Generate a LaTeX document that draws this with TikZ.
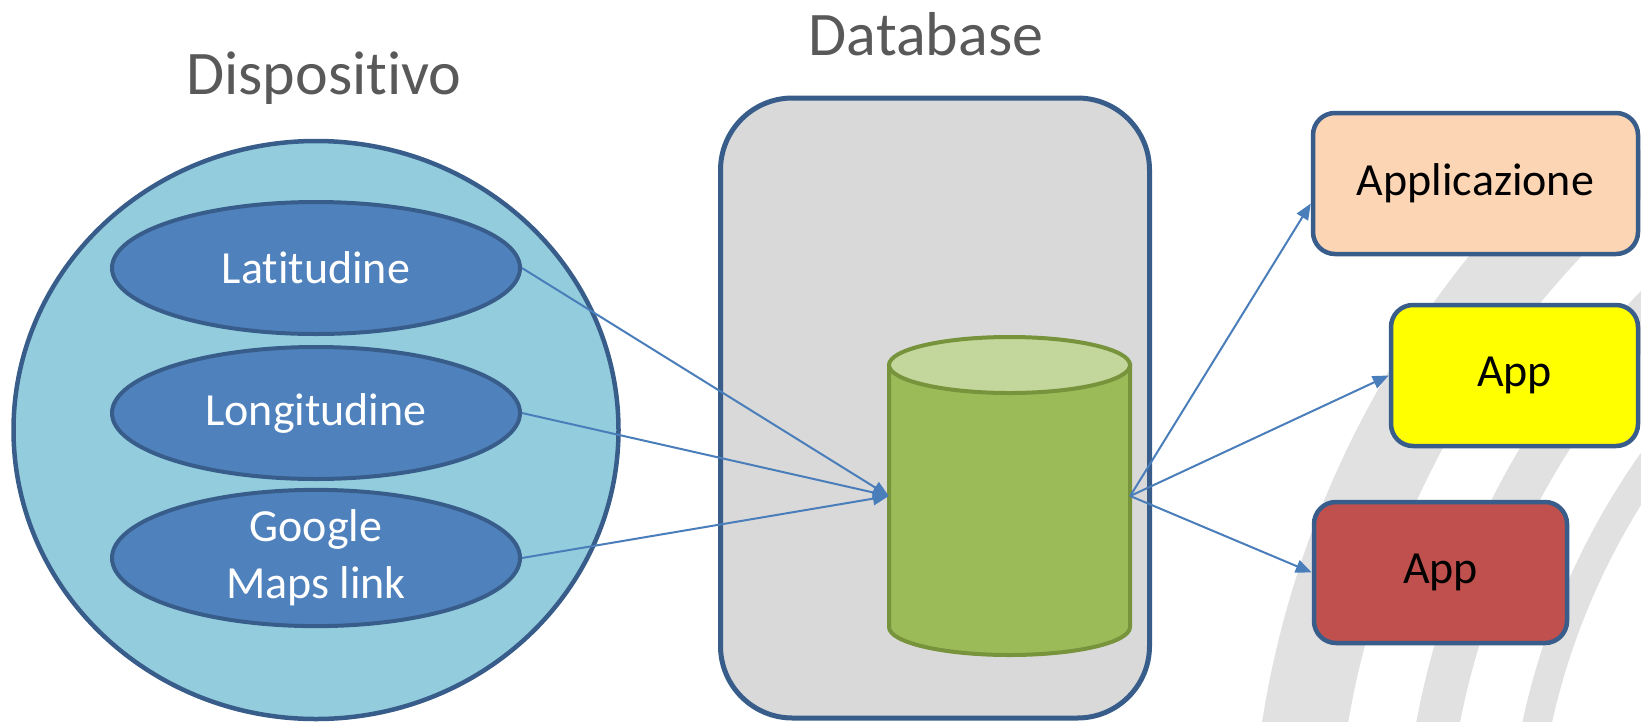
\documentclass[tikz,border=0pt]{standalone}
\usepackage{fontspec}
\setmainfont{Carlito}[Ligatures=NoCommon]
\usetikzlibrary{shapes.geometric,arrows.meta}
\definecolor{cbordo}{RGB}{56,93,138}
\definecolor{cceleste}{RGB}{147,205,221}
\definecolor{cblu}{RGB}{79,129,189}
\definecolor{cfreccia}{RGB}{74,126,187}
\definecolor{cgrigio}{RGB}{217,217,217}
\definecolor{ctitolo}{RGB}{89,89,89}
\definecolor{cpesca}{RGB}{252,213,181}
\definecolor{cgiallo}{RGB}{255,255,0}
\definecolor{crosso}{RGB}{192,80,77}
\definecolor{cverde}{RGB}{155,187,89}
\definecolor{cverdechiaro}{RGB}{195,214,155}
\definecolor{cverdescuro}{RGB}{119,147,60}
\definecolor{cfiligrana}{RGB}{225,225,225}
\begin{document}
\begin{tikzpicture}[x=1pt,y=-1pt,
	titolo/.style={text=ctitolo,font=\fontsize{62}{74}\selectfont,anchor=base,inner sep=0pt},
	campo/.style={ellipse,draw=cbordo,line width=4pt,fill=cblu,text=white,minimum width=408pt,minimum height=132pt,inner sep=0pt,align=center,font=\fontsize{46}{57}\selectfont},
	app/.style={draw=cbordo,line width=4.5pt,rounded corners=22pt,font=\fontsize{46}{55}\selectfont,minimum height=141pt,inner sep=0pt},
	fusto/.style={draw=cverdescuro,line width=4pt},
	freccia/.style={draw=cfreccia,line width=2pt,-{Triangle[length=16pt,width=13pt]}}]
	\useasboundingbox (0,0) rectangle (1641,721);
	% filigrana
	\begin{scope}
		\clip (1150,150) rectangle (1641,721);
		\foreach \ra/\rb in {990/905,838/795,734/705}
			\fill[cfiligrana,even odd rule] (2240,877) circle[radius=\ra pt] circle[radius=\rb pt];
	\end{scope}
	% dispositivo
	\node[titolo] (tdisp) at (324,94) {Dispositivo};
	\node[ellipse,draw=cbordo,line width=4.5pt,fill=cceleste,minimum width=605pt,minimum height=578pt] (disp) at (316,430) {};
	\node[campo] (lat) at (316,268) {Latitudine};
	\node[campo] (lon) at (316,413) {Longitudine};
	\node[campo] (maps) at (316,558) {Google\\Maps link};
	% database
	\node[titolo] (tdb) at (926,55) {Database};
	\node[draw=cbordo,line width=5pt,fill=cgrigio,rounded corners=72pt,minimum width=429pt,minimum height=620pt] (db) at (935,408) {};
	\node[minimum width=241pt,minimum height=318pt,inner sep=0pt] (cil) at (1009.5,496) {};
	\filldraw[fusto,fill=cverde] (889,365) -- (889,627) arc[start angle=180,end angle=360,x radius=120.5pt,y radius=28pt] -- (1130,365) -- cycle;
	\filldraw[fusto,fill=cverdechiaro] (1009.5,365) ellipse[x radius=120.5pt,y radius=28pt];
	% applicazioni
	\node[app,fill=cpesca,minimum width=325pt] (appl) at (1475.5,183.5) {Applicazione};
	\node[app,fill=cgiallo,minimum width=247pt] (giallo) at (1514.5,375.5) {App};
	\node[app,fill=crosso,minimum width=253pt] (rosso) at (1440.5,572.5) {App};
	% frecce
	\draw[freccia] (lat.east) -- (cil.west);
	\draw[freccia] (lon.east) -- (cil.west);
	\draw[freccia] (maps.east) -- (cil.west);
	\draw[freccia] (cil.east) -- ([yshift=-20pt]appl.west);
	\draw[freccia] (cil.east) -- (giallo.west);
	\draw[freccia] (cil.east) -- (rosso.west);
\end{tikzpicture}
\end{document}
